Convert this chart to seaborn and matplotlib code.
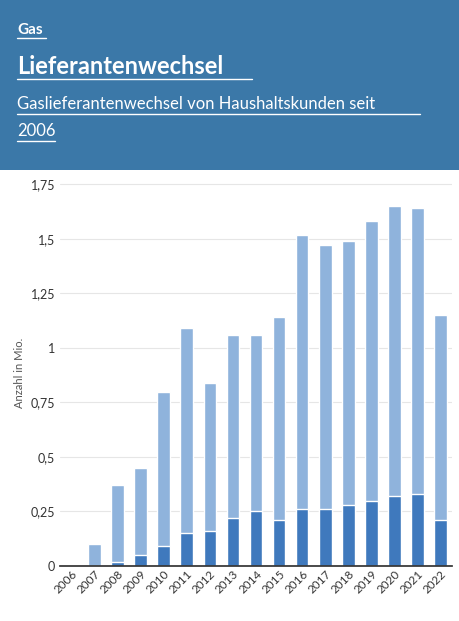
import matplotlib
matplotlib.use("Agg")
import matplotlib.pyplot as plt
import seaborn as sns
import pandas as pd
import numpy as np

years = [str(y) for y in range(2006, 2023)]
total = [0.005, 0.10, 0.37, 0.45, 0.80, 1.09, 0.84, 1.06, 1.06, 1.14, 1.52, 1.47, 1.49, 1.58, 1.65, 1.64, 1.15]
lower = [0.003, 0.0, 0.02, 0.05, 0.09, 0.15, 0.16, 0.22, 0.25, 0.21, 0.26, 0.26, 0.28, 0.30, 0.32, 0.33, 0.21]
yticks = [0, 0.25, 0.5, 0.75, 1, 1.25, 1.5, 1.75]
ytick_labels = ["0", "0,25", "0,5", "0,75", "1", "1,25", "1,5", "1,75"]

df = pd.DataFrame({"Jahr": years, "total": total, "lower": lower})

sns.set_theme(style="white")
plt.rcParams['font.family'] = ['Lato', 'DejaVu Sans']

fig = plt.figure(figsize=(4.59, 6.21), dpi=100)
hdr = fig.add_axes([0, 1 - 170 / 621, 1, 170 / 621])
hdr.set_facecolor("#3b78a8")
hdr.set_xticks([]); hdr.set_yticks([])
for s in hdr.spines.values():
    s.set_visible(False)
hdr.text(17 / 459, 1 - 30 / 170, "Gas", color="white", fontsize=11, fontweight="bold",
         va="center", transform=hdr.transAxes)
hdr.text(17 / 459, 1 - 67 / 170, "Lieferantenwechsel", color="white", fontsize=17, fontweight="bold",
         va="center", transform=hdr.transAxes)
hdr.text(17 / 459, 1 - 104 / 170, "Gaslieferantenwechsel von Haushaltskunden seit", color="white",
         fontsize=12, va="center", transform=hdr.transAxes)
hdr.text(17 / 459, 1 - 131 / 170, "2006", color="white", fontsize=12, va="center", transform=hdr.transAxes)
for y0, x1 in [(38, 46), (79, 252), (114, 420), (141, 55)]:
    hdr.plot([17 / 459, x1 / 459], [1 - y0 / 170] * 2, color="white", lw=1, transform=hdr.transAxes)

ax = fig.add_axes([60 / 459, 1 - 566 / 621, 392 / 459, (566 - 180) / 621])
sns.barplot(data=df, x="Jahr", y="total", color="#8fb3dc", width=0.55, ax=ax, saturation=1)
sns.barplot(data=df, x="Jahr", y="lower", color="#3f79bd", width=0.55, ax=ax, saturation=1)
ax.set_ylim(0, 1.77)
ax.set_yticks(yticks)
ax.set_yticklabels(ytick_labels, fontsize=9, color="#333333")
ax.yaxis.grid(True, color="#e6e6e6", lw=0.8)
ax.set_axisbelow(True)
for s in ["top", "right", "left"]:
    ax.spines[s].set_visible(False)
ax.spines["bottom"].set_color("#333333")
ax.set_xlabel("")
ax.set_ylabel("Anzahl in Mio.", fontsize=8, color="#555555")
ax.tick_params(axis="x", labelsize=8.5, rotation=45, colors="#333333", length=0, pad=2)
for lbl in ax.get_xticklabels():
    lbl.set_ha("right")
    lbl.set_rotation_mode("anchor")
ax.tick_params(axis="y", length=0)

fig.savefig("out.png", dpi=100)
